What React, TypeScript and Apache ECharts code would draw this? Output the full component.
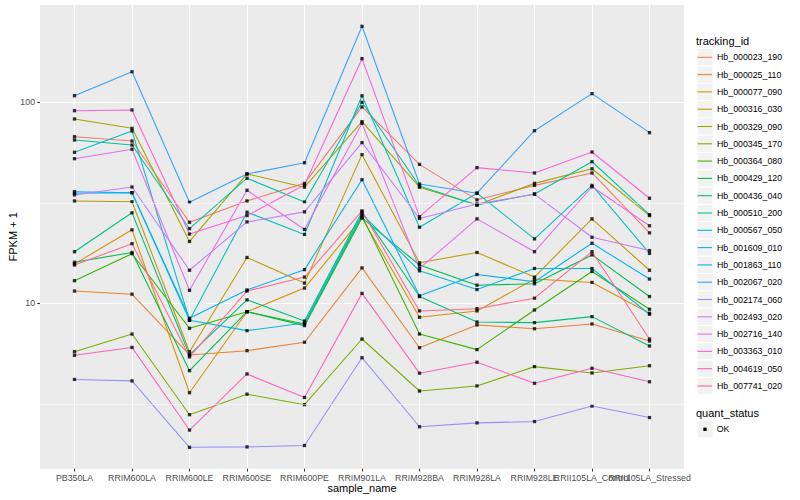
import React, { useEffect, useRef } from "react";
import * as echarts from "echarts";

const FONT = "'Liberation Sans', Arial, Helvetica, sans-serif";

const samples = [
  "PB350LA", "RRIM600LA", "RRIM600LE", "RRIM600SE", "RRIM600PE", "RRIM901LA",
  "RRIM928BA", "RRIM928LA", "RRIM928LE", "RRII105LA_Control", "RRII105LA_Stressed",
];

const trackingIds = [
  "Hb_000023_190", "Hb_000025_110", "Hb_000077_090", "Hb_000316_030", "Hb_000329_090",
  "Hb_000345_170", "Hb_000364_080", "Hb_000429_120", "Hb_000436_040", "Hb_000510_200",
  "Hb_000567_050", "Hb_001609_010", "Hb_001863_110", "Hb_002067_020", "Hb_002174_060",
  "Hb_002493_020", "Hb_002716_140", "Hb_003363_010", "Hb_004619_050", "Hb_007741_020",
];

const colors = [
  "#F8766D", "#EA8331", "#D89000", "#C09B00", "#A3A500", "#7CAE00", "#39B600", "#00BB4E",
  "#00BF7D", "#00C1A3", "#00BFC4", "#00BAE0", "#00B0F6", "#35A2FF", "#9590FF", "#C77CFF",
  "#E76BF3", "#FA62DB", "#FF62BC", "#FF6C91",
];

// FPKM + 1 per sample (order of `samples`)
const hb_000023_190 = [67.4, 64.2, 25.3, 32.3, 39.5, 94.8, 49.1, 32.7, 38.6, 44.5, 22.4];
const hb_000025_110 = [11.5, 11.1, 5.53, 5.81, 6.4, 15.0, 6.01, 7.8, 7.47, 7.89, 6.49];
const hb_000077_090 = [15.7, 23.2, 3.59, 9.08, 11.9, 26.6, 8.52, 9.16, 13.2, 12.7, 8.92];
const hb_000316_030 = [32.3, 32.0, 5.74, 16.9, 12.6, 54.9, 15.9, 17.9, 13.5, 26.3, 14.6];
const hb_000329_090 = [82.6, 74.2, 20.3, 44.0, 37.8, 80.1, 37.8, 30.8, 39.5, 46.7, 27.3];
const hb_000345_170 = [5.74, 7.03, 2.79, 3.53, 3.13, 6.64, 3.66, 3.88, 4.84, 4.5, 4.89];
const hb_000364_080 = [12.95, 17.65, 7.51, 9.08, 7.89, 27.2, 7.03, 5.88, 9.26, 14.4, 9.34];
const hb_000429_120 = [16.0, 17.9, 4.62, 9.08, 7.74, 26.6, 15.5, 12.3, 12.5, 17.4, 10.8];
const hb_000436_040 = [18.05, 28.2, 5.53, 10.4, 8.16, 28.5, 10.8, 8.07, 8.01, 8.58, 6.13];
const hb_000510_200 = [64.9, 61.3, 23.5, 41.9, 31.9, 100.0, 38.3, 30.8, 35.0, 50.6, 27.6];
const hb_000567_050 = [56.4, 72.0, 8.23, 28.4, 22.0, 107.8, 23.9, 35.3, 20.9, 38.6, 17.7];
const hb_001609_010 = [35.3, 35.5, 8.23, 7.31, 7.98, 27.8, 14.5, 11.7, 14.9, 14.9, 8.82];
const hb_001863_110 = [35.9, 35.5, 8.42, 11.65, 14.7, 41.2, 10.9, 13.9, 12.8, 19.9, 13.2];
const hb_002067_020 = [107.8, 141.9, 31.8, 44.0, 50.0, 238.8, 39.2, 35.3, 72.2, 110.4, 70.6];
const hb_002174_060 = [4.18, 4.11, 1.92, 1.93, 1.96, 5.36, 2.43, 2.54, 2.58, 3.08, 2.7];
const hb_002493_020 = [34.6, 37.9, 14.6, 25.4, 28.5, 63.0, 26.4, 31.2, 34.9, 21.3, 18.3];
const hb_002716_140 = [52.4, 58.4, 11.6, 36.5, 23.3, 78.6, 14.9, 26.3, 18.05, 38.0, 24.3];
const hb_003363_010 = [90.8, 91.6, 22.1, 27.3, 38.8, 164.8, 26.97, 47.3, 44.5, 56.6, 33.3];
const hb_004619_050 = [5.51, 6.03, 2.34, 4.45, 3.4, 11.2, 4.49, 5.09, 4.0, 4.75, 4.07];
const hb_007741_020 = [15.5, 19.8, 5.41, 11.5, 13.5, 28.8, 9.16, 9.4, 10.6, 18.05, 6.64];

const seriesValues = [
  hb_000023_190, hb_000025_110, hb_000077_090, hb_000316_030, hb_000329_090,
  hb_000345_170, hb_000364_080, hb_000429_120, hb_000436_040, hb_000510_200,
  hb_000567_050, hb_001609_010, hb_001863_110, hb_002067_020, hb_002174_060,
  hb_002493_020, hb_002716_140, hb_003363_010, hb_004619_050, hb_007741_020,
];

const yMajorBreaks = [10, 100];
const yMinorBreaks = [3.1623, 31.623];
const quantStatus = "OK";

export default function App() {
  const ref = useRef<HTMLDivElement>(null);

  useEffect(() => {
    if (!ref.current) return;
    const chart = echarts.init(ref.current, undefined, { renderer: "svg" });
    const idx = samples.map((_, i) => i);
    const xMin = -0.6;
    const xMax = samples.length - 1 + 0.6;
    const keyTop = 48.65;
    const keyStep = 17.3;

    const lineSeries = trackingIds.map((name, i) => ({
      type: "line",
      name,
      data: seriesValues[i].map((v, j) => [j, v]),
      symbol: "none",
      lineStyle: { color: colors[i], width: 1.07 },
      itemStyle: { color: colors[i] },
      z: 2,
      silent: true,
    }));

    const pointSeries = {
      type: "scatter",
      name: quantStatus,
      symbol: "rect",
      symbolSize: 3.3,
      itemStyle: { color: "#000" },
      data: seriesValues.flatMap((arr) => arr.map((v, j) => [j, v])),
      z: 3,
      silent: true,
    };

    const minorGrid = {
      type: "line",
      name: "_minor",
      data: [],
      z: 1,
      silent: true,
      markLine: {
        silent: true,
        symbol: ["none", "none"],
        label: { show: false },
        lineStyle: { color: "#FFFFFF", width: 0.53, type: "solid" },
        data: yMinorBreaks.map((v) => ({ yAxis: v })),
      },
    };

    const graphics: any[] = [
      {
        type: "text", x: 696, y: 40.7, z: 5,
        style: { text: "tracking_id", fontSize: 11, fontFamily: FONT, fill: "#000", verticalAlign: "middle", align: "left" },
      },
      ...trackingIds.map((_, i) => ({
        type: "rect", z: 1,
        shape: { x: 697, y: keyTop + i * keyStep, width: 16, height: keyStep },
        style: { fill: "#F2F2F2", stroke: "#FFFFFF", lineWidth: 1 },
      })),
      {
        type: "text", x: 696, y: 412.7, z: 5,
        style: { text: "quant_status", fontSize: 11, fontFamily: FONT, fill: "#000", verticalAlign: "middle", align: "left" },
      },
      {
        type: "rect", z: 1,
        shape: { x: 697, y: 429.3 - keyStep / 2, width: 16, height: keyStep },
        style: { fill: "#F2F2F2", stroke: "#FFFFFF", lineWidth: 1 },
      },
      {
        type: "rect", z: 5,
        shape: { x: 705 - 1.65, y: 429.3 - 1.65, width: 3.3, height: 3.3 },
        style: { fill: "#000" },
      },
      {
        type: "text", x: 716.7, y: 429.3, z: 5,
        style: { text: quantStatus, fontSize: 8.8, fontFamily: FONT, fill: "#000", verticalAlign: "middle", align: "left" },
      },
    ];

    chart.setOption({
      animation: false,
      backgroundColor: "#FFFFFF",
      textStyle: { fontFamily: FONT },
      grid: {
        left: 40, top: 5, width: 644, height: 463.7,
        containLabel: false,
        outerBoundsMode: "none",
        show: true, backgroundColor: "#EBEBEB", borderWidth: 0,
      },
      xAxis: {
        type: "value",
        min: xMin,
        max: xMax,
        axisLine: { show: false, onZero: false },
        axisTick: { show: true, customValues: idx, length: 2.75, lineStyle: { color: "#333333", width: 1.07 } },
        axisLabel: {
          // trailing blank label at the panel edge keeps every sample label visible
          customValues: [...idx, xMax],
          formatter: (v: number) => (Number.isInteger(v) ? samples[v] ?? "" : ""),
          color: "#4D4D4D", fontSize: 8.8, fontFamily: FONT, margin: 4.95,
          hideOverlap: false, showMinLabel: true, showMaxLabel: false,
        },
        splitLine: { show: true, lineStyle: { color: "#FFFFFF", width: 1.07 } },
        name: "sample_name",
        nameLocation: "middle",
        nameGap: 14,
        nameMoveOverlap: false,
        nameTextStyle: { fontSize: 11, color: "#000", fontFamily: FONT },
      },
      yAxis: {
        type: "log",
        logBase: 10,
        min: 1.503,
        max: 304.8,
        axisLine: { show: false, onZero: false },
        axisTick: { show: true, customValues: yMajorBreaks, length: 2.75, lineStyle: { color: "#333333", width: 1.07 } },
        axisLabel: { customValues: yMajorBreaks, color: "#4D4D4D", fontSize: 8.8, fontFamily: FONT, margin: 4.95 },
        splitLine: { show: true, lineStyle: { color: "#FFFFFF", width: 1.07 } },
        minorSplitLine: { show: false },
        name: "FPKM + 1",
        nameLocation: "middle",
        nameGap: 21.5,
        nameRotate: 90,
        nameMoveOverlap: false,
        nameTextStyle: { fontSize: 11, color: "#000", fontFamily: FONT },
      },
      legend: {
        orient: "vertical",
        left: 697.5,
        top: keyTop,
        padding: 0,
        itemWidth: 14.5,
        itemHeight: 1.1,
        itemGap: 0,
        icon: "rect",
        selectedMode: false,
        data: trackingIds.map((n, i) => ({ name: n, itemStyle: { color: colors[i] } })),
        textStyle: { fontSize: 8.8, color: "#000", fontFamily: FONT, lineHeight: keyStep },
        z: 4,
      },
      graphic: graphics,
      series: [minorGrid, ...lineSeries, pointSeries],
    });

    return () => chart.dispose();
  }, []);

  return (
    <div
      ref={ref}
      style={{ position: "fixed", left: 0, top: 0, width: 800, height: 500 }}
    />
  );
}
